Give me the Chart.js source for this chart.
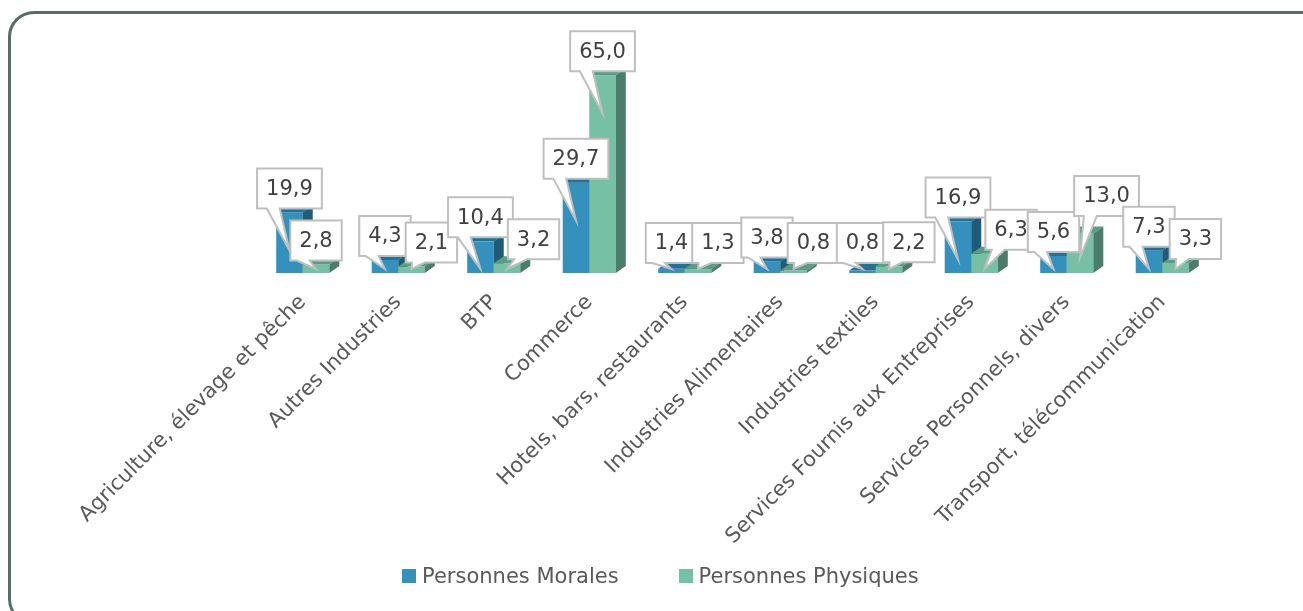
<!DOCTYPE html>
<html>
<head>
<meta charset="utf-8">
<script src="https://cdn.jsdelivr.net/npm/chart.js@4.4.0/dist/chart.umd.min.js"></script>
<style>
  html, body { margin: 0; padding: 0; background: #fff; overflow: hidden; }
  #wrap { position: relative; width: 1303px; height: 611px; overflow: hidden; }
  #cadre { position: absolute; left: 8px; top: 11px; width: 1322px; height: 614px;
           border: 3px solid #5e6a6a; border-radius: 26px; box-sizing: border-box; }
  #secteurs { position: absolute; left: 0; top: 0; }
  #legende { position: absolute; left: 402px; top: 564px; display: flex; align-items: center;
             font-family: "DejaVu Sans"; font-size: 21px; color: #595959; }
  #legende span.carre { display: inline-block; width: 14px; height: 14px; margin-right: 6px; }
  #legende div { display: flex; align-items: center; margin-right: 60px; }
</style>
</head>
<body>
<div id="wrap">
  <div id="cadre"></div>
  <canvas id="secteurs" width="1303" height="611"></canvas>
  <div id="legende"></div>
</div>
<script>
const secteurs = [
  "Agriculture, élevage et pêche", "Autres Industries", "BTP", "Commerce",
  "Hotels, bars, restaurants", "Industries Alimentaires", "Industries textiles",
  "Services Fournis aux Entreprises", "Services Personnels, divers",
  "Transport, télécommunication"
];
const personnesMorales   = [19.9, 4.3, 10.4, 29.7, 1.4, 3.8, 0.8, 16.9, 5.6, 7.3];
const personnesPhysiques = [2.8, 2.1, 3.2, 65.0, 1.3, 0.8, 2.2, 6.3, 13.0, 3.3];

const couleurs = {
  morales:   { front: "#3491bd", top: "#286f92", side: "#1f5c79" },
  physiques: { front: "#76c0a6", top: "#5c9c86", side: "#4a7d6b" }
};

const DX = 10, DY = 7;
const fmt = v => v.toFixed(1).replace(".", ",");

// barres 3D + bulles de valeurs
const barres3d = {
  id: "barres3d",
  afterDatasetsDraw(chart) {
    const ctx = chart.ctx;
    const n = chart.data.labels.length;
    const nds = chart.data.datasets.length;
    ctx.save();
    for (let i = 0; i < n; i++) {
      for (let d = 0; d < nds; d++) {
        const c = chart.data.datasets[d].faces;
        const b = chart.getDatasetMeta(d).data[i];
        const l = b.x - b.width / 2, r = b.x + b.width / 2, y = b.y, base = b.base;
        ctx.fillStyle = c.front;
        ctx.fillRect(l, y, r - l, base - y);
        ctx.fillStyle = c.top;
        ctx.beginPath();
        ctx.moveTo(l, y); ctx.lineTo(r, y); ctx.lineTo(r + DX, y - DY); ctx.lineTo(l + DX, y - DY);
        ctx.closePath(); ctx.fill();
        ctx.fillStyle = c.side;
        ctx.beginPath();
        ctx.moveTo(r, y); ctx.lineTo(r + DX, y - DY); ctx.lineTo(r + DX, base - DY); ctx.lineTo(r, base);
        ctx.closePath(); ctx.fill();
      }
    }
    // bulles
    ctx.font = '21px "DejaVu Sans"';
    ctx.textAlign = "center";
    ctx.textBaseline = "middle";
    for (let i = 0; i < n; i++) {
      let prev = null;
      for (let d = 0; d < nds; d++) {
        const b = chart.getDatasetMeta(d).data[i];
        const txt = fmt(chart.data.datasets[d].data[i]);
        const w = ctx.measureText(txt).width + 18, h = 40;
        let bottom = Math.min(b.y - 4, b.base - 10);
        let left = b.x - w / 2;
        if (prev && left < prev.right && bottom - h < prev.bottom && bottom > prev.top) {
          left = prev.right - 5;
          if (b.y < prev.barY - 15) bottom = Math.min(bottom, prev.top + 4);
        }
        const top = bottom - h;
        const right = left + w;
        const tipX = b.x, tipY = Math.min(bottom + 42, b.base - 4);
        const bc = left + w * 0.25;
        ctx.beginPath();
        ctx.moveTo(left, top); ctx.lineTo(right, top); ctx.lineTo(right, bottom);
        ctx.lineTo(bc + 6.5, bottom); ctx.lineTo(tipX, tipY); ctx.lineTo(bc - 6.5, bottom);
        ctx.lineTo(left, bottom); ctx.closePath();
        ctx.fillStyle = "#ffffff";
        ctx.fill();
        ctx.strokeStyle = "#bfbfbf";
        ctx.lineWidth = 2;
        ctx.stroke();
        ctx.fillStyle = "#404040";
        ctx.fillText(txt, left + w / 2, top + h / 2 + 1);
        prev = { left, right, top, bottom, barY: b.y };
      }
    }
    ctx.restore();
  }
};

const chart = new Chart(document.getElementById("secteurs"), {
  type: "bar",
  data: {
    labels: secteurs,
    datasets: [
      { label: "Personnes Morales", data: personnesMorales, backgroundColor: "rgba(0,0,0,0)", faces: couleurs.morales },
      { label: "Personnes Physiques", data: personnesPhysiques, backgroundColor: "rgba(0,0,0,0)", faces: couleurs.physiques }
    ]
  },
  options: {
    responsive: false,
    animation: false,
    categoryPercentage: 0.556,
    barPercentage: 1,
    layout: { padding: { top: 60, left: 255, right: 93, bottom: 53 } },
    plugins: { legend: { display: false }, tooltip: { enabled: false } },
    scales: {
      x: {
        grid: { display: false },
        border: { display: false },
        ticks: {
          autoSkip: false, minRotation: 45, maxRotation: 45, padding: 9,
          color: "#595959", font: { family: "DejaVu Sans", size: 21 }
        },
        afterFit(s) { s.height = 285; }
      },
      y: { display: false, min: 0, max: 70 }
    }
  },
  plugins: [barres3d]
});

// légende
const leg = document.getElementById("legende");
chart.data.datasets.forEach(ds => {
  const item = document.createElement("div");
  item.innerHTML = '<span class="carre" style="background:' + ds.faces.front + '"></span>' + ds.label;
  leg.appendChild(item);
});
</script>
</body>
</html>
